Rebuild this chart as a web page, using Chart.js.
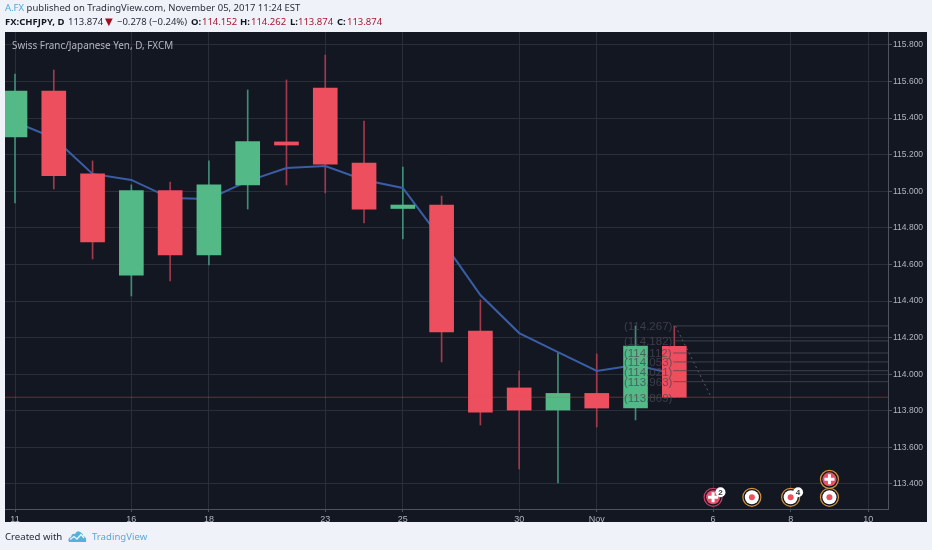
<!DOCTYPE html>
<html><head><meta charset="utf-8">
<style>
html,body{margin:0;padding:0;background:#eff3f9;width:932px;height:550px;overflow:hidden}
#c{position:absolute;left:0;top:0}
.t{position:absolute;white-space:nowrap;font:9.5px "Noto Sans",sans-serif;color:#2a2e39;line-height:14px}
.b{font-weight:700;color:#131722}.r{color:#a8182c}.u{color:#52a8d6}
</style></head><body>
<canvas id="c" width="932" height="550"></canvas>
<div class="t" style="left:5px;top:1px"><span class="u">A.FX</span> published on TradingView.com, November 05, 2017 11:24 EST</div>
<div class="t b" style="left:5px;top:15px">FX:CHFJPY, D</div>
<div class="t" style="left:68px;top:15px">113.874</div>
<div class="t" style="left:105px;top:15px;color:#a00f20;font-family:'DejaVu Sans';font-size:10px">▼</div>
<div class="t" style="left:117px;top:15px">−0.278 (−0.24%)</div>
<div class="t b" style="left:191px;top:15px">O:</div><div class="t r" style="left:202px;top:15px">114.152</div>
<div class="t b" style="left:240px;top:15px">H:</div><div class="t r" style="left:251px;top:15px">114.262</div>
<div class="t b" style="left:290px;top:15px">L:</div><div class="t r" style="left:298px;top:15px">113.874</div>
<div class="t b" style="left:337px;top:15px">C:</div><div class="t r" style="left:347px;top:15px">113.874</div>
<div class="t" style="left:12px;top:38px;font-size:9.9px;color:#b2b5be">Swiss Franc/Japanese Yen, D, FXCM</div>
<div class="t" style="left:5px;top:530px;font-size:9.6px;color:#1f2430">Created with</div>
<svg style="position:absolute;left:68px;top:530px" width="19" height="13" viewBox="0 0 19 13"><path d="M1 12 Q-1 8 3 7 Q4 3 7 4 Q9 0 12 2 Q15 3 15 6 Q19 7 18 12 Z" fill="#55b0da"/><path d="M2 9.5 L6 6.5 L9 9 L13 4.5 L16 8" stroke="#eff3f9" stroke-width="1.3" fill="none"/></svg>
<div class="t u" style="left:92px;top:530px;font-size:9.6px;color:#5aa9d6">TradingView</div>
<script src="https://cdn.jsdelivr.net/npm/chart.js@4"></script>
<script>
const dayLabels = ["11","12","13","16","17","18","19","20","23","24","25","26","27","30","31","Nov","2","3","6","7","8","9","10"];
const shownLabels = ["11","16","18","23","25","30","Nov","6","8","10"];
const opens  = [115.297,115.548,115.095,114.542,115.004,114.652,115.035,115.270,115.565,115.155,114.906,114.925,114.236,113.925,113.804,113.895,113.815,114.152];
const closes = [115.548,115.086,114.723,115.004,114.652,115.035,115.272,115.253,115.149,114.903,114.925,114.231,113.793,113.804,113.895,113.815,114.154,113.874];
const highs  = [115.641,115.663,115.166,115.035,115.051,115.166,115.554,115.609,115.745,115.384,115.133,114.974,114.406,114.018,114.116,114.111,114.264,114.262];
const lows   = [114.936,115.013,114.630,114.428,114.510,114.597,114.903,115.035,114.991,114.827,114.739,114.067,113.722,113.482,113.405,113.711,113.750,113.874];
const maValues = [115.379,115.292,115.095,115.062,114.963,114.958,115.056,115.127,115.138,115.062,115.018,114.734,114.433,114.225,114.121,114.018,114.050,114.001];
const yTicks = [113.4,113.6,113.8,114.0,114.2,114.4,114.6,114.8,115.0,115.2,115.4,115.6,115.8];
const lastClose = 113.874;
const fibLines = [114.264,114.182,114.116,114.067,114.019,113.959];
const fibTexts = ["(114.267)","(114.182)","(114.112)","(114.053)","(114.021)","(113.963)","(113.869)"];
const fibTextY = [114.260,114.178,114.112,114.060,114.010,113.955,113.865];
const markerRows = {low:113.327, high:113.425};
const openMarkers = [[19,"low"],[20,"low"],[21,"low"]];
const plusMarkers = [[18,"low"],[21,"high"]];
const badges = [[18,"low","2"],[20,"low","4"]];

const GREEN='#53b987', RED='#ee4f5f', GREEN_W='#3f8f78', RED_W='#a23a4c';
const XMIN=-0.258, XMAX=22.51;
const up=i=>closes[i]>=opens[i];
const pts=a=>a.map(([x,r])=>({x,y:markerRows[r]}));
const allMarkers=pts(openMarkers.concat(plusMarkers));

const datasets=[
 {type:'bar',data:highs.map((h,i)=>({x:i,y:[lows[i],h]})),barThickness:1,grouped:false,order:6,
  backgroundColor:highs.map((h,i)=>up(i)?GREEN_W:RED_W)},
 {type:'line',data:maValues.map((y,x)=>({x,y})),borderColor:'#3a5ea6',borderWidth:2,pointRadius:0,tension:0,order:5},
 {type:'bar',data:opens.map((o,i)=>({x:i,y:[o,closes[i]]})),barThickness:24,grouped:false,order:4,
  backgroundColor:opens.map((o,i)=>up(i)?GREEN:RED)},
 {type:'line',data:[{x:XMIN,y:lastClose},{x:XMAX,y:lastClose}],borderColor:'rgba(235,77,92,0.42)',borderWidth:1,pointRadius:0,order:3},
 ...fibLines.map(v=>({type:'line',data:[{x:16.97,y:v},{x:XMAX,y:v}],borderColor:'rgba(72,75,86,0.78)',borderWidth:1,pointRadius:0,order:3})),
 {type:'line',data:[{x:17.03,y:fibLines[0]},{x:17.95,y:lastClose}],borderColor:'rgba(105,108,120,0.8)',borderWidth:1,borderDash:[2,3],pointRadius:0,order:3},
 {type:'scatter',data:allMarkers,order:2.9,pointRadius:9,pointBackgroundColor:'#131722',pointBorderWidth:1.2,
  pointBorderColor:allMarkers.map(p=>p.x===18?'#c2406a':'#d4933a')},
 {type:'scatter',data:pts(openMarkers),order:2.8,pointRadius:7,pointBackgroundColor:'#ffffff',pointBorderWidth:0},
 {type:'scatter',data:pts(openMarkers),order:2.7,pointRadius:3,pointBackgroundColor:RED,pointBorderWidth:0},
 {type:'scatter',data:pts(plusMarkers),order:2.6,pointRadius:7,pointBackgroundColor:'#e8506a',pointBorderWidth:0},
 {type:'scatter',data:pts(plusMarkers),order:2.5,pointStyle:'cross',pointRadius:5,pointBorderColor:'#ffffff',pointBorderWidth:3}
];

const overlay={id:'overlay',
 beforeDraw(c){const g=c.ctx;g.save();g.fillStyle='#131722';g.fillRect(5,32,922,490);g.restore();},
 afterDatasetsDraw(c){
  const g=c.ctx,xs=c.scales.x,ys=c.scales.y;
  g.save();
  g.font='11.5px "Liberation Sans"';g.textAlign='left';g.textBaseline='middle';
  g.fillStyle='rgba(70,73,84,0.78)';
  fibTexts.forEach((t,i)=>g.fillText(t,624,ys.getPixelForValue(fibTextY[i])));
  badges.forEach(([x,r,t])=>{
   const px=xs.getPixelForValue(x)+7.4,py=ys.getPixelForValue(markerRows[r])-5;
   g.fillStyle='#fff';g.beginPath();g.arc(px,py,5,0,Math.PI*2);g.fill();
   g.fillStyle='#30343f';g.font='bold 8px "Liberation Sans"';g.textAlign='center';
   g.fillText(t,px,py+0.5);
  });
  g.restore();
 }};

new Chart(document.getElementById('c'),{
 data:{datasets},
 plugins:[overlay],
 options:{responsive:false,animation:false,
  layout:{autoPadding:false,padding:{left:5,right:0,top:32,bottom:28}},
  plugins:{legend:{display:false},tooltip:{enabled:false}},
  events:[],
  scales:{
   x:{type:'linear',min:XMIN,max:XMAX,offset:false,
    afterBuildTicks(s){s.ticks=dayLabels.map((l,i)=>({value:i,label:l})).filter(t=>shownLabels.includes(t.label)).map(t=>({value:t.value}));},
    afterFit(s){s.height=13;s.paddingLeft=0;s.paddingRight=0;},
    grid:{offset:false,color:'#2a2e39',tickColor:'#50535e',tickLength:3,drawTicks:true},
    border:{color:'#50535e',width:1},
    ticks:{autoSkip:false,maxRotation:0,padding:2,color:'#b2b5be',font:{family:'"Liberation Sans"',size:9},
     callback:v=>dayLabels[v]}
   },
   y:{type:'linear',position:'right',min:113.263,max:115.871,
    afterBuildTicks(s){s.ticks=yTicks.map(value=>({value}));},
    afterFit(s){s.width=44;s.paddingTop=0;s.paddingBottom=0;},
    grid:{color:'#2a2e39',tickColor:'#50535e',tickLength:4},
    border:{color:'#50535e',width:1},
    ticks:{autoSkip:false,padding:1,color:'#b2b5be',font:{family:'"Liberation Sans"',size:8.5},
     callback:v=>Number(v).toFixed(3)}
   }
  }
 }
});
</script>
</body></html>
